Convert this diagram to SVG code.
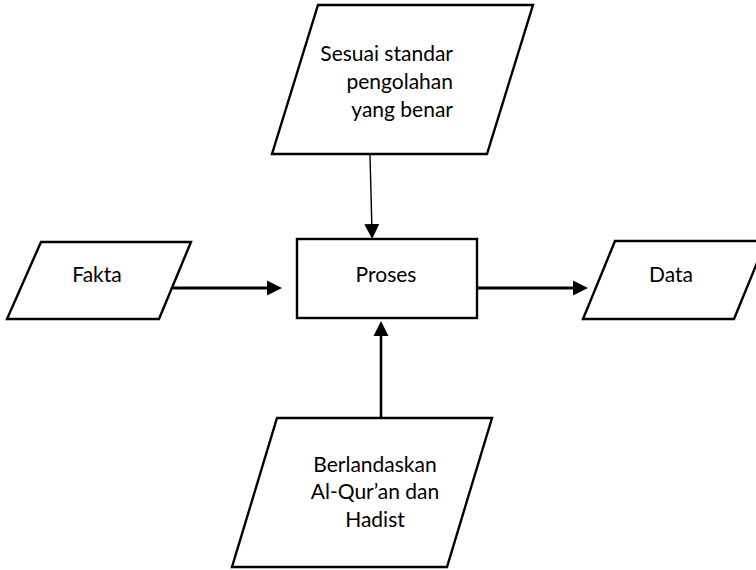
<svg xmlns="http://www.w3.org/2000/svg" width="756" height="570" viewBox="0 0 756 570">
<defs>
<style>
.shape{fill:#fff;stroke:#000;stroke-width:2.4;stroke-linejoin:miter}
.lbl{font-family:Lato,"Liberation Sans",sans-serif;font-size:21px;fill:#000}
.conn{stroke:#000;fill:none}
</style>
<marker id="ah" markerUnits="userSpaceOnUse" markerWidth="16" markerHeight="16" refX="0" refY="7.5" orient="auto" viewBox="0 0 16 15">
<path d="M0,0 L15,7.5 L0,15 z" fill="#000"/>
</marker>
</defs>
<rect width="756" height="570" fill="#fff"/>
<g id="node-standar">
<polygon class="shape" points="318,5 533,5 487,154 272,154"/>
<text class="lbl" text-anchor="end"><tspan x="453" y="61">Sesuai standar</tspan><tspan x="453" y="89">pengolahan</tspan><tspan x="453" y="117">yang benar</tspan></text>
</g>
<g id="node-fakta">
<polygon class="shape" points="41,242 191,242 159,319 7,319"/>
<text class="lbl" x="97" y="282" text-anchor="middle">Fakta</text>
</g>
<g id="node-proses">
<rect class="shape" x="297" y="239" width="180" height="79"/>
<text class="lbl" x="386" y="282" text-anchor="middle">Proses</text>
</g>
<g id="node-data">
<polygon class="shape" points="615,241 766,241 734,319 583,319"/>
<text class="lbl" x="671" y="282" text-anchor="middle">Data</text>
</g>
<g id="node-quran">
<polygon class="shape" points="277,418 492,418 447,567 232,567"/>
<text class="lbl" text-anchor="middle"><tspan x="375" y="472">Berlandaskan</tspan><tspan x="375" y="499">Al-Qur’an dan</tspan><tspan x="375" y="527">Hadist</tspan></text>
</g>
<g id="connectors">
<line class="conn" x1="173" y1="288" x2="267" y2="288" stroke-width="3" marker-end="url(#ah)"/>
<line class="conn" x1="477" y1="288" x2="573" y2="288" stroke-width="3" marker-end="url(#ah)"/>
<line class="conn" x1="370" y1="155" x2="371.8" y2="224" stroke-width="1.4" marker-end="url(#ah)"/>
<line class="conn" x1="381" y1="418" x2="381" y2="336" stroke-width="2.6" marker-end="url(#ah)"/>
</g>
</svg>
